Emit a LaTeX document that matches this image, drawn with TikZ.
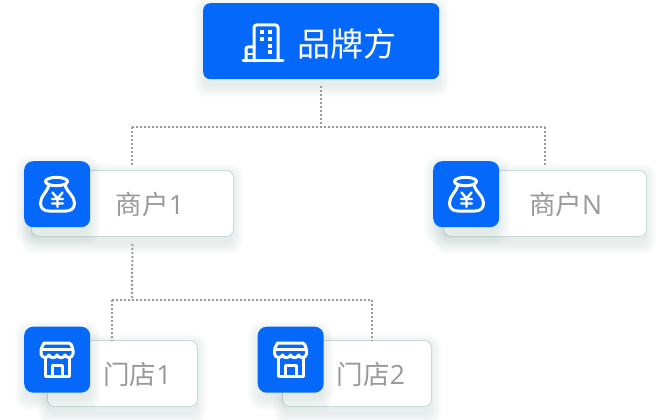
\documentclass[tikz,border=0pt]{standalone}
\usepackage{fontspec}
\setmainfont{Noto Sans CJK SC}
\newfontfamily\latinf{Open Sans}
\definecolor{brandblue}{HTML}{0468FB}
\definecolor{shadowc}{HTML}{5F8A80}
\definecolor{cardedge}{HTML}{C9DAD8}
\definecolor{linkc}{HTML}{9A9A9A}
\definecolor{labelc}{HTML}{999999}
\newcommand{\softshadow}[5]{% x1 y1 x2 y2 radius
  \foreach \g in {11,9,7,5,3,1}{
    \fill[shadowc,opacity=0.028,rounded corners=#5+\g*0.5]
      (#1-\g+2,#2+5-\g) rectangle (#3+\g-1,#4+7+\g);
  }}
\newcommand{\bagicon}[2]{%
  \begin{scope}[shift={(#1,#2)},icon]
    \draw (25.5,11.5) ellipse (11 and 4.2);
    \draw (18,15.5) .. controls (16,22) and (9.5,26) .. (9.5,33) .. controls (9.5,38.5) and (13,41) .. (18,41)
      -- (35,41) .. controls (40,41) and (43.5,38.5) .. (43.5,33) .. controls (43.5,26) and (36,22) .. (34,15.5);
    \draw[line width=2.4pt] (21.5,22.5) -- (26.5,28.5) -- (31.5,22.5) (26.5,28.5) -- (26.5,37) (21,29) -- (32,29) (21,33.5) -- (32,33.5);
  \end{scope}}
\newcommand{\storeicon}[2]{%
  \begin{scope}[shift={(#1,#2)},icon]
    \draw[rounded corners=1.5] (12,8) -- (38.5,8) -- (41,14) -- (41,19);
    \draw[rounded corners=1.5] (12,8) -- (9,14) -- (9,19);
    \draw (9.5,14) -- (40.5,14);
    \draw (9,19) .. controls (10,23.5) and (15.5,23.5) .. (17,20) .. controls (18,23.5) and (24,23.5) .. (25,20)
      .. controls (26,23.5) and (32,23.5) .. (33,20) .. controls (34.5,23.5) and (40,23.5) .. (41,19);
    \draw (13,23) -- (13,41) -- (37.5,41) -- (37.5,23);
    \draw (20,41) -- (20,30) -- (30.5,30) -- (30.5,41);
  \end{scope}}
\tikzset{
  cardbox/.style={draw=cardedge,line width=0.9pt,fill=white,rounded corners=7,inner sep=0pt,anchor=north west},
  iconbox/.style={fill=brandblue,rounded corners=9,inner sep=0pt,anchor=north west,minimum width=66,minimum height=66},
  brandbox/.style={fill=brandblue,rounded corners=7,inner sep=0pt,anchor=north west,minimum width=236,minimum height=76},
  link/.style={draw=linkc,line width=2pt,dash pattern=on 2pt off 2pt},
  icon/.style={draw=white,line width=3pt,line cap=round,line join=round},
  cardtext/.style={text=labelc,font=\fontsize{26.5}{26.5}\selectfont,inner sep=0pt},
}
\begin{document}
\begin{tikzpicture}[x=1pt,y=-1pt]
\useasboundingbox (0,0) rectangle (670,420);
\coordinate (bustop) at (321,127);
\coordinate (busmid) at (132,299.5);
\coordinate (leftdrop) at (132,127);
\coordinate (rightdrop) at (545,127);
\coordinate (s1drop) at (112,299.5);
\coordinate (s2drop) at (372,299.5);
\softshadow{203}{3}{439}{79}{6}
\softshadow{31}{170}{233}{236}{6}
\softshadow{443}{170}{646}{236}{6}
\softshadow{47}{340}{197}{406}{6}
\softshadow{282}{340}{431}{406}{6}
\node[brandbox] (brand) at (203,3) {};
\node[cardbox,minimum width=202,minimum height=66] (m1) at (31,170) {};
\node[cardbox,minimum width=203,minimum height=66] (mn) at (443,170) {};
\node[cardbox,minimum width=150,minimum height=66] (s1) at (47,340) {};
\node[cardbox,minimum width=149,minimum height=66] (s2) at (282,340) {};
\draw[link,shorten <=7pt] (brand.south -| bustop) -- (bustop);
\draw[link] (leftdrop) -- (rightdrop);
\draw[link,shorten >=4pt] (leftdrop) -- (m1.north -| leftdrop);
\draw[link,shorten >=4pt] (rightdrop) -- (mn.north -| rightdrop);
\draw[link,shorten <=7pt] (m1.south) -- (busmid);
\draw[link] (s1drop) -- (s2drop);
\draw[link] (s1drop) -- (s1.north -| s1drop);
\draw[link] (s2drop) -- (s2.north -| s2drop);
\softshadow{24}{161}{90}{227}{8}
\softshadow{433}{161}{499}{227}{8}
\softshadow{24}{327}{90}{392}{8}
\softshadow{257}{327}{323}{392}{8}
\node[iconbox] (ic1) at (24,161) {};
\node[iconbox] (icn) at (433,161) {};
\node[iconbox] (is1) at (24,326.5) {};
\node[iconbox] (is2) at (257.5,326.5) {};
\bagicon{31}{170}
\bagicon{440}{170}
\storeicon{32}{335}
\storeicon{265.5}{335}
\begin{scope}[icon]
  \draw (243,61) -- (283,61);
  \draw[rounded corners=2.5] (254,61) -- (254,25) -- (278,25) -- (278,61);
  \draw[rounded corners=2] (254,47) -- (246,47) -- (246,61);
  \draw[line width=2pt] (246,54) -- (254,54);
  \foreach \p in {(262,32),(269.5,32),(262,39),(269.5,39),(269.5,46),(269.5,52)}
    \fill[white,draw=none] \p ++(-2,-2) rectangle ++(4,4);
\end{scope}
\node[text=white,font=\fontsize{33}{33}\selectfont,inner sep=0pt] (brandt) at (346.5,44) {品牌方};
\node[cardtext] (m1t) at (150,204) {商户{\latinf 1}};
\node[cardtext] (mnt) at (565.5,204) {商户{\latinf N}};
\node[cardtext] (s1t) at (137.5,374.5) {门店{\latinf 1}};
\node[cardtext] (s2t) at (371,374.5) {门店{\latinf 2}};
\end{tikzpicture}
\end{document}
